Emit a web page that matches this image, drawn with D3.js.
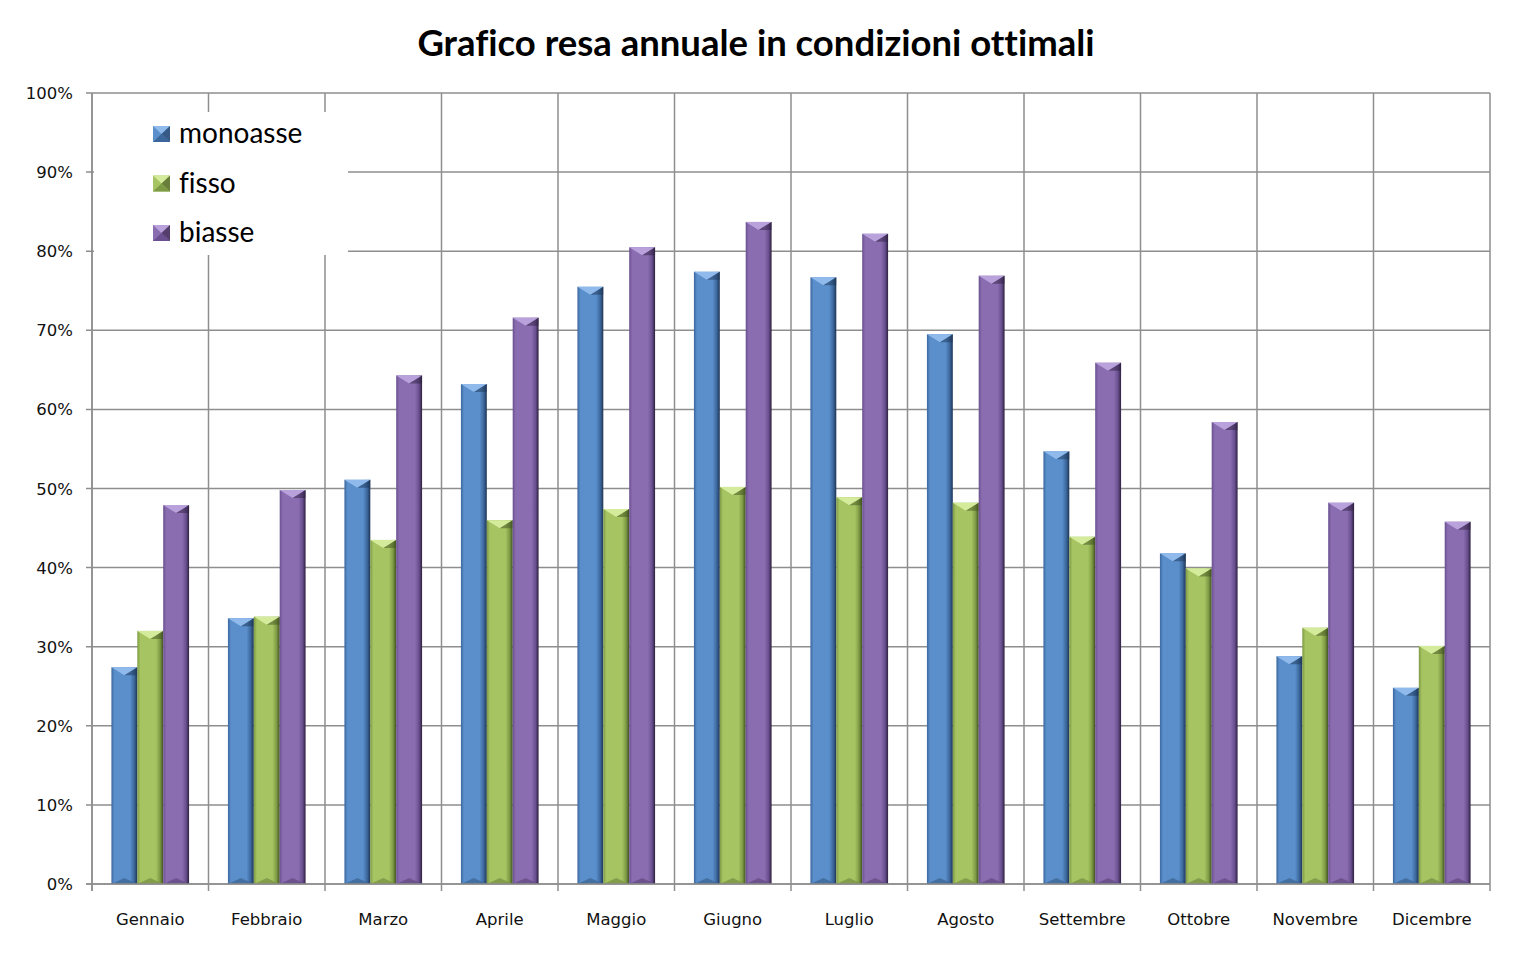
<!DOCTYPE html>
<html><head><meta charset="utf-8">
<script src="https://cdn.jsdelivr.net/npm/d3@7"></script>
<style>body{margin:0;background:#fff}svg{display:block}text{font-variant-ligatures:none;font-feature-settings:"liga" 0}</style>
</head><body>
<script>
const months = ["Gennaio","Febbraio","Marzo","Aprile","Maggio","Giugno","Luglio","Agosto","Settembre","Ottobre","Novembre","Dicembre"];
const seriesNames = ["monoasse","fisso","biasse"];
const monoasse = [27.4,33.6,51.1,63.2,75.5,77.4,76.7,69.5,54.7,41.8,28.8,24.8];
const fisso    = [32.0,33.8,43.5,46.0,47.4,50.2,48.9,48.2,43.9,39.9,32.4,30.1];
const biasse   = [47.9,49.8,64.3,71.6,80.5,83.7,82.2,76.9,65.9,58.4,48.2,45.8];
const yTicks = [0,10,20,30,40,50,60,70,80,90,100];
const title = "Grafico resa annuale in condizioni ottimali";

const W=1517,H=957;
const L=92,R=1490,T=93,B=884;
const svg=d3.select("body").append("svg").attr("width",W).attr("height",H);
const defs=svg.append("defs");
const palettes=[
 {base:"#5a8fcc",light:"#8fbaeb",dark:"#1e3555",edge:"#3c679c",bot:"#3f6796"},
 {base:"#a6c462",light:"#d3eb9a",dark:"#3f5020",edge:"#7d9a44",bot:"#7b9445"},
 {base:"#8a6db0",light:"#b9a1dc",dark:"#2e2040",edge:"#6a5090",bot:"#654c86"}
];
palettes.forEach((p,i)=>{
  const g=defs.append("linearGradient").attr("id","g"+i).attr("x1","0").attr("x2","1").attr("y1","0").attr("y2","0");
  [[0,p.edge],[0.12,p.base],[0.72,p.base],[0.88,p.edge],[1,p.dark]].forEach(([o,c])=>g.append("stop").attr("offset",o).attr("stop-color",c));
});

const x=d3.scaleBand().domain(months).range([L,R]).paddingInner(0).paddingOuter(0);
const bw=x.bandwidth()/4.5;
const xs=d3.scaleBand().domain(seriesNames).range([bw*0.75,bw*3.75]);
const y=d3.scaleLinear().domain([0,100]).range([B,T]);

const grid="#8e8e8e";
svg.append("g").selectAll("line").data(yTicks).join("line")
 .attr("x1",L-6).attr("x2",R).attr("y1",d=>y(d)).attr("y2",d=>y(d))
 .attr("stroke",grid).attr("stroke-width",1.5);
const bounds=months.map(m=>x(m)).concat([R]);
svg.append("g").selectAll("line").data(bounds).join("line")
 .attr("x1",d=>d).attr("x2",d=>d).attr("y1",T).attr("y2",B+7)
 .attr("stroke",grid).attr("stroke-width",1.5);

svg.append("rect").attr("x",L+2).attr("y",112).attr("width",254).attr("height",143).attr("fill","#fff");

const data=[monoasse,fisso,biasse];
const gBars=svg.append("g");
months.forEach((m,i)=>{
  seriesNames.forEach((s,k)=>{
    const v=data[k][i], p=palettes[k];
    const x0=x(m)+xs(s), w=xs.bandwidth(), y0=y(v), h=B-y0;
    gBars.append("rect").attr("x",x0).attr("y",y0).attr("width",w).attr("height",h).attr("fill",`url(#g${k})`);
    const bv=8;
    gBars.append("path").attr("d",`M${x0},${y0}L${x0+w},${y0}L${x0+w/2},${y0+bv}Z`).attr("fill",p.light);
    gBars.append("path").attr("d",`M${x0+w},${y0}L${x0+w/2},${y0+bv}L${x0+w},${y0+bv}Z`).attr("fill",p.dark).attr("opacity",0.5);
    gBars.append("path").attr("d",`M${x0},${B}L${x0+w},${B}L${x0+w/2},${B-6}Z`).attr("fill",p.bot).attr("opacity",0.8);
  });
});

svg.append("line").attr("x1",L).attr("x2",L).attr("y1",T).attr("y2",B+7).attr("stroke",grid).attr("stroke-width",1.5);
svg.append("line").attr("x1",L-6).attr("x2",R).attr("y1",B).attr("y2",B).attr("stroke",grid).attr("stroke-width",1.5);

svg.append("g").selectAll("text").data(yTicks).join("text")
 .attr("x",73).attr("y",d=>y(d)+6).attr("text-anchor","end")
 .attr("font-family","DejaVu Sans, Verdana, sans-serif").attr("font-size",16.5).attr("fill","#111")
 .text(d=>d+"%");
svg.append("g").selectAll("text").data(months).join("text")
 .attr("x",d=>x(d)+x.bandwidth()/2).attr("y",925).attr("text-anchor","middle")
 .attr("font-family","DejaVu Sans, Verdana, sans-serif").attr("font-size",16.5).attr("fill","#111")
 .text(d=>d);

svg.append("text").attr("x",756).attr("y",56).attr("text-anchor","middle")
 .attr("font-family","Lato, 'Open Sans', sans-serif").attr("font-weight","bold").attr("font-size",36.5).attr("fill","#000")
 .text(title);

const lg=svg.append("g");
seriesNames.forEach((s,k)=>{
  const p=palettes[k], ly=134+k*49.5;
  lg.append("rect").attr("x",153).attr("y",ly-8).attr("width",17).attr("height",16).attr("fill",p.base);
  lg.append("path").attr("d",`M153,${ly-8}L170,${ly-8}L161.5,${ly}Z`).attr("fill",p.light);
  lg.append("path").attr("d",`M170,${ly-8}L170,${ly+8}L161.5,${ly}Z`).attr("fill",p.dark).attr("opacity",0.6);
  lg.append("path").attr("d",`M153,${ly+8}L170,${ly+8}L161.5,${ly}Z`).attr("fill",p.edge);
  lg.append("text").attr("x",179).attr("y",ly+9).attr("font-family","Lato, 'Open Sans', sans-serif")
    .attr("font-size",28).attr("fill","#000").text(s);
});
</script>
</body></html>
